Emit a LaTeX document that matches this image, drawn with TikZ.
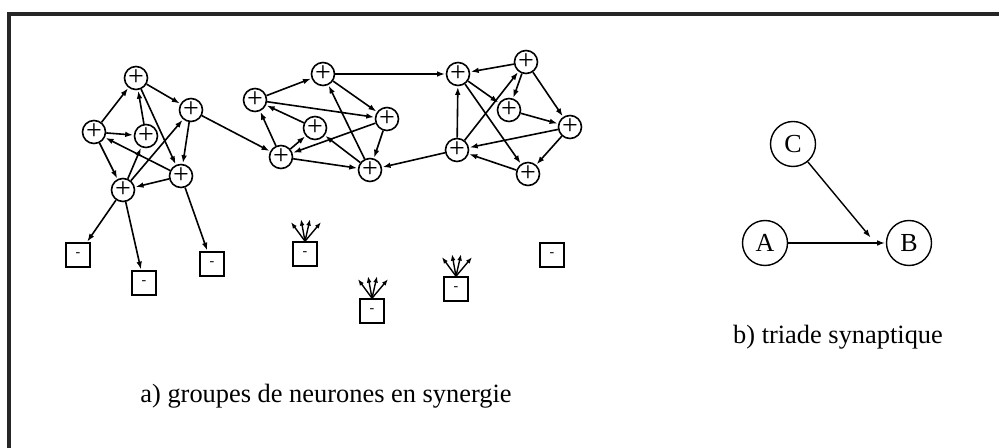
\documentclass[tikz,border=0pt]{standalone}
\usepackage{fontspec}
\setmainfont{Liberation Serif}
\usetikzlibrary{arrows.meta}
\tikzset{
  exc/.style = {circle, draw, line width=0.8pt, minimum size=11.5pt, inner sep=0pt, font=\fontsize{14}{14}\selectfont},
  inh/.style = {rectangle, draw, line width=0.8pt, minimum size=12pt, inner sep=0pt, font=\scriptsize},
  cell/.style = {circle, draw, line width=0.7pt, minimum size=22.5pt, inner sep=0pt, font=\fontsize{13}{13}\selectfont},
  arrow/.style = {-{Latex[length=4pt,width=2.8pt]}, line width=0.8pt, shorten >=0.3pt},
  fan/.style = {-{Latex[length=3.2pt,width=2.4pt]}, line width=0.7pt},
  caption/.style = {font=\fontsize{13.2}{16}\selectfont, anchor=center}
}

\begin{document}
\begin{tikzpicture}[x=0.5pt, y=-0.5pt]
\useasboundingbox (0,0) rectangle (999,448);
\draw[line width=1.6pt, black!85] (9,448) |- (999,14);

% groupe 1
\node[exc] (g1t) at (136,78) {+};
\node[exc] (g1r) at (191,110) {+};
\node[exc] (g1l) at (94,132) {+};
\node[exc] (g1m) at (146,136) {+};
\node[exc] (g1lr) at (181,176) {+};
\node[exc] (g1b) at (123,190) {+};

% groupe 2
\node[exc] (g2t) at (323,74) {+};
\node[exc] (g2l) at (255,100) {+};
\node[exc] (g2r) at (387,119) {+};
\node[exc] (g2m) at (315,128) {+};
\node[exc] (g2bl) at (281,157) {+};
\node[exc] (g2br) at (370,170) {+};

% groupe 3
\node[exc] (g3lt) at (458,74) {+};
\node[exc] (g3tr) at (526,62) {+};
\node[exc] (g3m) at (509,110) {+};
\node[exc] (g3r) at (570,127) {+};
\node[exc] (g3bl) at (457,150) {+};
\node[exc] (g3b) at (528,174) {+};

% neurones inhibiteurs
\node[inh] (m1) at (78,255) {-};
\node[inh] (m2) at (144,283) {-};
\node[inh] (m3) at (212,264) {-};
\node[inh] (m4) at (305,254) {-};
\node[inh] (m5) at (372,311) {-};
\node[inh] (m6) at (456,289) {-};
\node[inh] (m7) at (552,255) {-};

\draw[arrow] (g1l) -- (g1t);
\draw[arrow] (g1t) -- (g1r);
\draw[arrow] (g1m) -- (g1t);
\draw[arrow] (g1t) -- (g1lr);
\draw[arrow] (g1l) -- (g1m);
\draw[arrow] (g1lr) -- (g1l);
\draw[arrow] (g1l) -- (g1b);
\draw[arrow] (g1b) -- (g1m);
\draw[arrow] (g1b) -- (g1r);
\draw[arrow] (g1r) -- (g1lr);
\draw[arrow] (g1lr) -- (g1b);
\draw[arrow] (g1r) -- (g2bl);
\draw[arrow] (g1b) -- (m1);
\draw[arrow] (g1b) -- (m2);
\draw[arrow] (g1lr) -- (m3);

\draw[arrow] (g2l) -- (g2t);
\draw[arrow] (g2t) -- (g3lt);
\draw[arrow] (g2t) -- (g2r);
\draw[arrow] (g2l) -- (g2r);
\draw[arrow] (g2m) -- (g2l);
\draw[arrow] (g2bl) -- (g2l);
\draw[arrow] (g2bl) -- (g2m);
\draw[arrow] (g2r) -- (g2bl);
\draw[arrow] (g2bl) -- (g2br);
\draw[arrow] (g2br) -- (g2t);
\draw[arrow] (g2br) -- (g2m);
\draw[arrow] (g2r) -- (g2br);

\draw[arrow] (g3tr) -- (g3lt);
\draw[arrow] (g3lt) -- (g3m);
\draw[arrow] (g3tr) -- (g3m);
\draw[arrow] (g3tr) -- (g3r);
\draw[arrow] (g3m) -- (g3r);
\draw[arrow] (g3lt) -- (g3b);
\draw[arrow] (g3bl) -- (g3lt);
\draw[arrow] (g3bl) -- (g3tr);
\draw[arrow] (g3r) -- (g3bl);
\draw[arrow] (g3r) -- (g3b);
\draw[arrow] (g3b) -- (g3bl);
\draw[arrow] (g3bl) -- (g2br);

\foreach \inhb in {m4,m5,m6}
  \foreach \dx/\dy in {-14/-19, -4/-22, 5/-22, 16/-19}
    \draw[fan] (\inhb.north) -- ++(\dx,\dy);

% triade
\node[cell] (C) at (793,144) {C};
\node[cell] (A) at (765,243) {A};
\node[cell] (B) at (909,243) {B};
\coordinate (syn) at (871,238);
\draw[arrow, line width=0.9pt] (A) -- (B);
\draw[arrow, line width=0.7pt] (C) -- (syn);

\node[caption] (capa) at (326,396) {a) groupes de neurones en synergie};
\node[caption] (capb) at (838,337) {b) triade synaptique};
\end{tikzpicture}
\end{document}
